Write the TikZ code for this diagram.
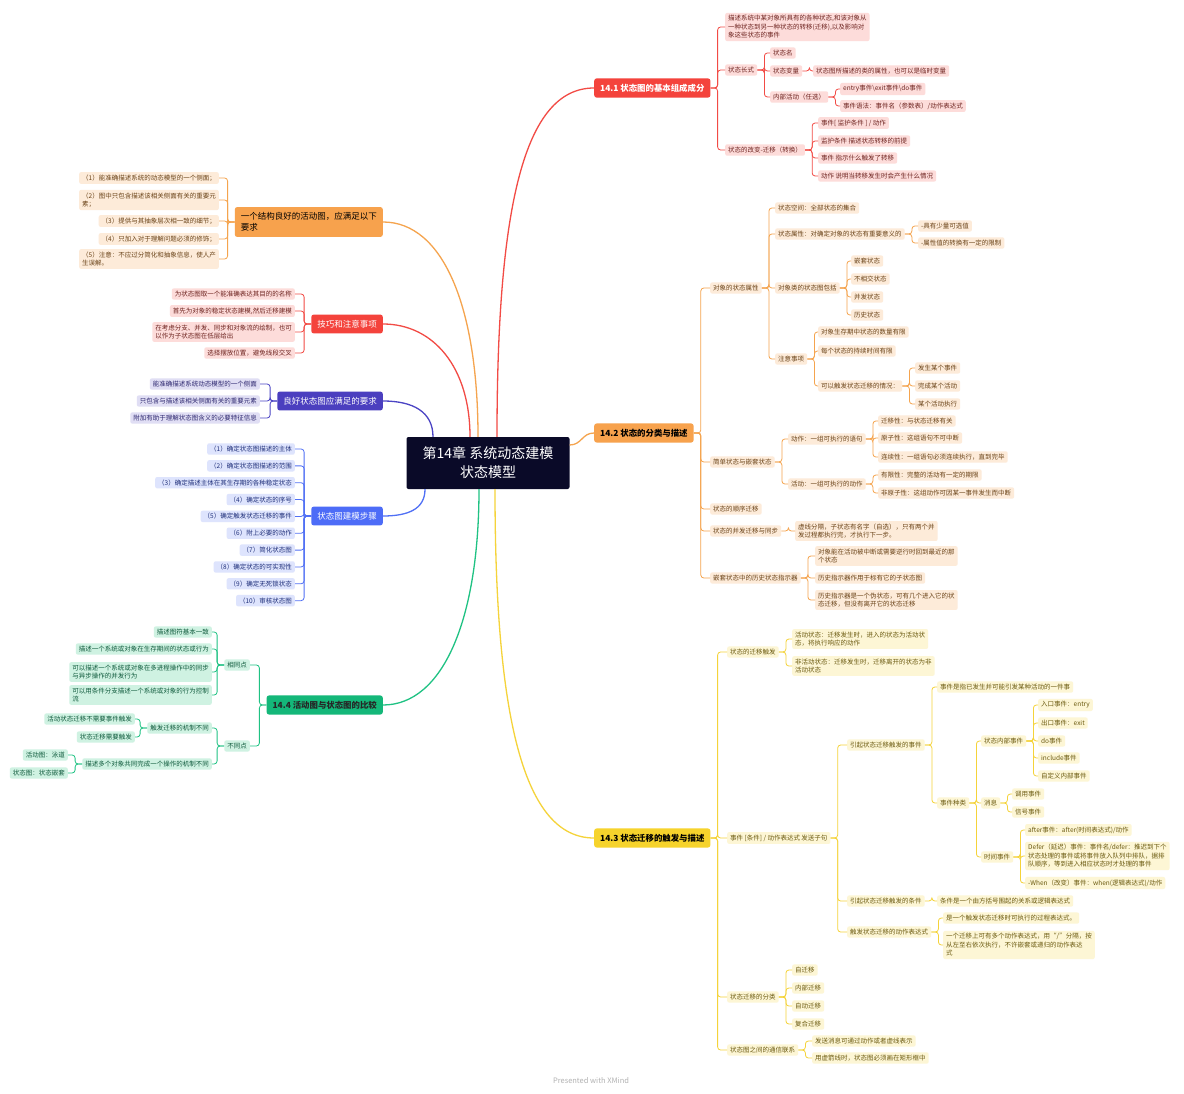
\documentclass[tikz,border=0pt]{standalone}
\usepackage{fontspec}
\setmainfont{Noto Sans CJK SC}
\definecolor{navy}{HTML}{0A0A28}
\definecolor{redM}{HTML}{F4433C}\definecolor{redL}{HTML}{F24B45}
\definecolor{pinkF}{HTML}{FDDCDA}\definecolor{pinkT}{HTML}{6E2420}
\definecolor{orM}{HTML}{F7A24D}\definecolor{orL}{HTML}{F5A44E}
\definecolor{peachF}{HTML}{FDEBD9}\definecolor{peachT}{HTML}{6A4318}
\definecolor{inM}{HTML}{4B3FBF}\definecolor{inL}{HTML}{4B44C4}
\definecolor{lilacF}{HTML}{E0DEF4}\definecolor{lilacT}{HTML}{2E2870}
\definecolor{blM}{HTML}{4D6CF7}\definecolor{blL}{HTML}{5070F5}
\definecolor{skyF}{HTML}{DEE4FD}\definecolor{skyT}{HTML}{1F2F7A}
\definecolor{grM}{HTML}{14B779}\definecolor{grL}{HTML}{1FC283}
\definecolor{mintF}{HTML}{CFF2E2}\definecolor{mintT}{HTML}{0F5A3C}
\definecolor{yeM}{HTML}{F6D32C}\definecolor{yeL}{HTML}{F5D33A}
\definecolor{creamF}{HTML}{FDF6D5}\definecolor{creamT}{HTML}{6B5A10}
% parent -> children, elbow links
\newcommand\branchR[3]{\foreach \c in {#3}{\draw[twig,draw=#1] (#2.east) -- ++(7,0) |- (\c.west);}}
\newcommand\branchL[3]{\foreach \c in {#3}{\draw[twig,draw=#1] (#2.west) -- ++(-7,0) |- (\c.east);}}
\begin{document}
\begin{tikzpicture}[x=1pt,y=-1pt,
	leaf/.style={rounded corners=2pt,inner xsep=3pt,inner ysep=2.6pt,align=left,font=\fontsize{6.5}{8.5}\selectfont},
	pinkleaf/.style={leaf,fill=pinkF,text=pinkT},
	peachleaf/.style={leaf,fill=peachF,text=peachT},
	lilacleaf/.style={leaf,fill=lilacF,text=lilacT},
	skyleaf/.style={leaf,fill=skyF,text=skyT},
	mintleaf/.style={leaf,fill=mintF,text=mintT},
	creamleaf/.style={leaf,fill=creamF,text=creamT},
	topic/.style={rounded corners=2.5pt,inner xsep=6pt,inner ysep=5.5pt,align=left,font=\fontsize{8.5}{11}\selectfont},
	sect/.style={topic,font=\bfseries\fontsize{8.4}{10}\selectfont},
	twig/.style={line width=0.8pt,rounded corners=3pt},
	limb/.style={line width=1.3pt},
	]
	\path[fill=white] (0,0) rectangle (1184,1094);
	\useasboundingbox (0,0) rectangle (1184,1094);
	
	\node[fill=navy,text=white,rounded corners=2pt,minimum width=163pt,minimum height=52pt,align=center,font=\fontsize{14}{19}\selectfont] (ctr) at (488,463) {第14章 系统动态建模\\状态模型};
	
	% right side
	\begin{scope}[every node/.append style={anchor=west}]
		% 14.1
		\node[sect,fill=redM,text=white] (s1) at (594,88) {14.1 状态图的基本组成成分};
		\node[pinkleaf] (s1a) at (725,27) {描述系统中某对象所具有的各种状态,和该对象从\\一种状态到另一种状态的转移(迁移),以及影响对\\象这些状态的事件};
		\node[pinkleaf] (s1b) at (725,70) {状态长式};
		\node[pinkleaf] (s1b1) at (770,53) {状态名};
		\node[pinkleaf] (s1b2) at (770,71) {状态变量};
		\node[pinkleaf] (s1b2a) at (813,71) {状态图所描述的类的属性，也可以是临时变量};
		\node[pinkleaf] (s1b3) at (770,97) {内部活动（任选）};
		\node[pinkleaf] (s1b3a) at (840,89) {entry事件\textbackslash exit事件\textbackslash do事件};
		\node[pinkleaf] (s1b3b) at (840,106) {事件语法：事件名（参数表）/动作表达式};
		\node[pinkleaf] (s1c) at (725,150) {状态的改变-迁移（转换）};
		\node[pinkleaf] (s1c1) at (818,123) {事件[ 监护条件 ] / 动作};
		\node[pinkleaf] (s1c2) at (818,141) {监护条件 描述状态转移的前提};
		\node[pinkleaf] (s1c3) at (818,158) {事件 指示什么触发了转移};
		\node[pinkleaf] (s1c4) at (818,176) {动作 说明当转移发生时会产生什么情况};
		% 14.2
		\node[sect,fill=orM] (s2) at (594,433) {14.2 状态的分类与描述};
		\node[peachleaf] (s2a) at (710,288) {对象的状态属性};
		\node[peachleaf] (s2a1) at (775,208) {状态空间：全部状态的集合};
		\node[peachleaf] (s2a2) at (775,234) {状态属性：对确定对象的状态有重要意义的};
		\node[peachleaf] (s2a2a) at (918,226) {-具有少量可选值};
		\node[peachleaf] (s2a2b) at (918,243) {-属性值的转换有一定的限制};
		\node[peachleaf] (s2a3) at (775,288) {对象类的状态图包括};
		\node[peachleaf] (s2a3a) at (851,261) {嵌套状态};
		\node[peachleaf] (s2a3b) at (851,279) {不相交状态};
		\node[peachleaf] (s2a3c) at (851,297) {并发状态};
		\node[peachleaf] (s2a3d) at (851,315) {历史状态};
		\node[peachleaf] (s2a4) at (775,359) {注意事项};
		\node[peachleaf] (s2a4a) at (818,332) {对象生存期中状态的数量有限};
		\node[peachleaf] (s2a4b) at (818,351) {每个状态的持续时间有限};
		\node[peachleaf] (s2a4c) at (818,386) {可以触发状态迁移的情况：};
		\node[peachleaf] (s2a4c1) at (915,368) {发生某个事件};
		\node[peachleaf] (s2a4c2) at (915,386) {完成某个活动};
		\node[peachleaf] (s2a4c3) at (915,404) {某个活动执行};
		\node[peachleaf] (s2b) at (710,462) {简单状态与嵌套状态};
		\node[peachleaf] (s2b1) at (788,439) {动作：一组可执行的语句};
		\node[peachleaf] (s2b1a) at (878,421) {迁移性：与状态迁移有关};
		\node[peachleaf] (s2b1b) at (878,438) {原子性：这组语句不可中断};
		\node[peachleaf] (s2b1c) at (878,457) {连续性：一组语句必须连续执行，直到完毕};
		\node[peachleaf] (s2b2) at (788,484) {活动：一组可执行的动作};
		\node[peachleaf] (s2b2a) at (878,475) {有限性：完整的活动有一定的期限};
		\node[peachleaf] (s2b2b) at (878,493) {非原子性：这组动作可因某一事件发生而中断};
		\node[peachleaf] (s2c) at (710,509) {状态的顺序迁移};
		\node[peachleaf] (s2d) at (710,531) {状态的并发迁移与同步};
		\node[peachleaf] (s2d1) at (795,531) {虚线分隔，子状态有名字（自选），只有两个并\\发过程都执行完，才执行下一步。};
		\node[peachleaf] (s2e) at (710,578) {嵌套状态中的历史状态指示器};
		\node[peachleaf] (s2e1) at (815,556) {对象能在活动被中断或需要逆行时回到最近的那\\个状态};
		\node[peachleaf] (s2e2) at (815,578) {历史指示器作用于标有它的子状态图};
		\node[peachleaf] (s2e3) at (815,600) {历史指示器是一个伪状态，可有几个进入它的状\\态迁移，但没有离开它的状态迁移};
		% 14.3
		\node[sect,fill=yeM] (s3) at (594,838) {14.3 状态迁移的触发与描述};
		\node[creamleaf] (s3a) at (727,652) {状态的迁移触发};
		\node[creamleaf] (s3a1) at (792,639) {活动状态：迁移发生时，进入的状态为活动状\\态，将执行响应的动作};
		\node[creamleaf] (s3a2) at (792,666) {非活动状态：迁移发生时，迁移离开的状态为非\\活动状态};
		\node[creamleaf] (s3b) at (727,838) {事件 [条件] / 动作表达式 发送子句};
		\node[creamleaf] (s3b1) at (847,745) {引起状态迁移触发的事件};
		\node[creamleaf] (s3b1a) at (937,687) {事件是指已发生并可能引发某种活动的一件事};
		\node[creamleaf] (s3b1b) at (937,803) {事件种类};
		\node[creamleaf] (s3k1) at (981,741) {状态内部事件};
		\node[creamleaf] (s3k1a) at (1038,705) {入口事件：entry};
		\node[creamleaf] (s3k1b) at (1038,723) {出口事件：exit};
		\node[creamleaf] (s3k1c) at (1038,741) {do事件};
		\node[creamleaf] (s3k1d) at (1038,758) {include事件};
		\node[creamleaf] (s3k1e) at (1038,776) {自定义内部事件};
		\node[creamleaf] (s3k2) at (981,803) {消息};
		\node[creamleaf] (s3k2a) at (1012,794) {调用事件};
		\node[creamleaf] (s3k2b) at (1012,812) {信号事件};
		\node[creamleaf] (s3k3) at (981,857) {时间事件};
		\node[creamleaf] (s3k3a) at (1025,830) {after事件：after(时间表达式)/动作};
		\node[creamleaf] (s3k3b) at (1025,856) {Defer（延迟）事件：事件名/defer：推迟到下个\\状态处理的事件或将事件放入队列中排队，据排\\队顺序，等到进入相应状态时才处理的事件};
		\node[creamleaf] (s3k3c) at (1025,883) {-When（改变）事件：when(逻辑表达式)/动作};
		\node[creamleaf] (s3b2) at (847,901) {引起状态迁移触发的条件};
		\node[creamleaf] (s3b2a) at (937,901) {条件是一个由方括号围起的关系或逻辑表达式};
		\node[creamleaf] (s3b3) at (847,932) {触发状态迁移的动作表达式};
		\node[creamleaf] (s3b3a) at (943,918) {是一个触发状态迁移时可执行的过程表达式。};
		\node[creamleaf] (s3b3b) at (943,945) {一个迁移上可有多个动作表达式，用“/”分隔，按\\从左至右依次执行，不许嵌套或递归的动作表达\\式};
		\node[creamleaf] (s3c) at (727,997) {状态迁移的分类};
		\node[creamleaf] (s3c1) at (792,970) {自迁移};
		\node[creamleaf] (s3c2) at (792,988) {内部迁移};
		\node[creamleaf] (s3c3) at (792,1006) {自动迁移};
		\node[creamleaf] (s3c4) at (792,1024) {复合迁移};
		\node[creamleaf] (s3d) at (727,1050) {状态图之间的通信联系};
		\node[creamleaf] (s3d1) at (812,1041) {发送消息可通过动作或者虚线表示};
		\node[creamleaf] (s3d2) at (812,1058) {用虚箭线时，状态图必须画在矩形框中};
	\end{scope}
	
	% left side
	\begin{scope}[every node/.append style={anchor=east}]
		\node[topic,fill=orM] (g1) at (383,222) {一个结构良好的活动图，应满足以下\\要求};
		\node[peachleaf] (g1a) at (219,178) {（1）能准确描述系统的动态模型的一个侧面；};
		\node[peachleaf] (g1b) at (219,200) {（2）图中只包含描述该相关侧面有关的重要元\\素；};
		\node[peachleaf] (g1c) at (219,221) {（3）提供与其抽象层次相一致的细节；};
		\node[peachleaf] (g1d) at (219,239) {（4）只加入对于理解问题必须的修饰；};
		\node[peachleaf] (g1e) at (219,259) {（5）注意：不应过分简化和抽象信息，使人产\\生误解。};
		
		\node[topic,fill=redM,text=white] (g2) at (383,324) {技巧和注意事项};
		\node[pinkleaf] (g2a) at (295,294) {为状态图取一个能准确表达其目的的名称};
		\node[pinkleaf] (g2b) at (295,311) {首先为对象的稳定状态建模,然后迁移建模};
		\node[pinkleaf] (g2c) at (295,332) {在考虑分支、并发、同步和对象流的绘制，也可\\以作为子状态图在低层给出};
		\node[pinkleaf] (g2d) at (295,353) {选择摆放位置，避免线段交叉};
		
		\node[topic,fill=inM,text=white] (g3) at (383,401) {良好状态图应满足的要求};
		\node[lilacleaf] (g3a) at (260,384) {能准确描述系统动态模型的一个侧面};
		\node[lilacleaf] (g3b) at (260,401) {只包含与描述该相关侧面有关的重要元素};
		\node[lilacleaf] (g3c) at (260,418) {附加有助于理解状态图含义的必要特征信息};
		
		\node[topic,fill=blM,text=white] (g4) at (383,516) {状态图建模步骤};
		\foreach \t [count=\i] in {（1）确定状态图描述的主体,（2）确定状态图描述的范围,（3）确定描述主体在其生存期的各种稳定状态,（4）确定状态的序号,（5）确定触发状态迁移的事件,（6）附上必要的动作,（7）简化状态图,（8）确定状态的可实现性,（9）确定无死锁状态,（10）审核状态图}
		\node[skyleaf] (g4\i) at (295,432.15+16.85*\i) {\t};
		
		\node[sect,fill=grM,text=black!85] (g5) at (383,705) {14.4 活动图与状态图的比较};
		\node[mintleaf] (g5a) at (250,665) {相同点};
		\node[mintleaf] (g5a1) at (212,632) {描述图符基本一致};
		\node[mintleaf] (g5a2) at (212,649) {描述一个系统或对象在生存期间的状态或行为};
		\node[mintleaf] (g5a3) at (212,672) {可以描述一个系统或对象在多进程操作中的同步\\与异步操作的并发行为};
		\node[mintleaf] (g5a4) at (212,695) {可以用条件分支描述一个系统或对象的行为控制\\流};
		\node[mintleaf] (g5b) at (250,746) {不同点};
		\node[mintleaf] (g5b1) at (212,728) {触发迁移的机制不同};
		\node[mintleaf] (g5b1a) at (135,719) {活动状态迁移不需要事件触发};
		\node[mintleaf] (g5b1b) at (135,737) {状态迁移需要触发};
		\node[mintleaf] (g5b2) at (212,764) {描述多个对象共同完成一个操作的机制不同};
		\node[mintleaf] (g5b2a) at (68,755) {活动图：泳道};
		\node[mintleaf] (g5b2b) at (68,773) {状态图：状态嵌套};
	\end{scope}
	
	% links
	\branchR{redL}{s1}{s1a,s1b,s1c}
	\branchR{redL}{s1b}{s1b1,s1b2,s1b3}
	\branchR{redL}{s1b2}{s1b2a}
	\branchR{redL}{s1b3}{s1b3a,s1b3b}
	\branchR{redL}{s1c}{s1c1,s1c2,s1c3,s1c4}
	\branchR{orL}{s2}{s2a,s2b,s2c,s2d,s2e}
	\branchR{orL}{s2a}{s2a1,s2a2,s2a3,s2a4}
	\branchR{orL}{s2a2}{s2a2a,s2a2b}
	\branchR{orL}{s2a3}{s2a3a,s2a3b,s2a3c,s2a3d}
	\branchR{orL}{s2a4}{s2a4a,s2a4b,s2a4c}
	\branchR{orL}{s2a4c}{s2a4c1,s2a4c2,s2a4c3}
	\branchR{orL}{s2b}{s2b1,s2b2}
	\branchR{orL}{s2b1}{s2b1a,s2b1b,s2b1c}
	\branchR{orL}{s2b2}{s2b2a,s2b2b}
	\branchR{orL}{s2d}{s2d1}
	\branchR{orL}{s2e}{s2e1,s2e2,s2e3}
	\branchR{yeL}{s3}{s3a,s3b,s3c,s3d}
	\branchR{yeL}{s3a}{s3a1,s3a2}
	\branchR{yeL}{s3b}{s3b1,s3b2,s3b3}
	\branchR{yeL}{s3b1}{s3b1a,s3b1b}
	\branchR{yeL}{s3b1b}{s3k1,s3k2,s3k3}
	\branchR{yeL}{s3k1}{s3k1a,s3k1b,s3k1c,s3k1d,s3k1e}
	\branchR{yeL}{s3k2}{s3k2a,s3k2b}
	\branchR{yeL}{s3k3}{s3k3a,s3k3b,s3k3c}
	\branchR{yeL}{s3b2}{s3b2a}
	\branchR{yeL}{s3b3}{s3b3a,s3b3b}
	\branchR{yeL}{s3c}{s3c1,s3c2,s3c3,s3c4}
	\branchR{yeL}{s3d}{s3d1,s3d2}
	\branchL{orL}{g1}{g1a,g1b,g1c,g1d,g1e}
	\branchL{redL}{g2}{g2a,g2b,g2c,g2d}
	\branchL{inL}{g3}{g3a,g3b,g3c}
	\branchL{blL}{g4}{g41,g42,g43,g44,g45,g46,g47,g48,g49,g410}
	\branchL{grL}{g5}{g5a,g5b}
	\branchL{grL}{g5a}{g5a1,g5a2,g5a3,g5a4}
	\branchL{grL}{g5b}{g5b1,g5b2}
	\branchL{grL}{g5b1}{g5b1a,g5b1b}
	\branchL{grL}{g5b2}{g5b2a,g5b2b}
	
	% main limbs from the centre
	\draw[limb,redL] ([xshift=9pt]ctr.north) .. controls +(0,-230) and +(-70,0) .. (s1.west);
	\draw[limb,orL] ([xshift=-10pt]ctr.north) .. controls +(0,-130) and +(60,0) .. (g1.east);
	\draw[limb,redL] ([xshift=-18pt]ctr.north) .. controls +(0,-70) and +(50,0) .. (g2.east);
	\draw[limb,inL] ([xshift=-55pt]ctr.north) .. controls +(0,-25) and +(30,0) .. (g3.east);
	\draw[limb,blL] ([xshift=-63pt]ctr.south) .. controls +(0,20) and +(25,0) .. (g4.east);
	\draw[limb,grL] ([xshift=-9pt]ctr.south) .. controls +(0,130) and +(60,0) .. (g5.east);
	\draw[limb,yeL] ([xshift=7pt]ctr.south) .. controls +(0,230) and +(-70,0) .. (s3.west);
	\draw[limb,orL] ([yshift=18pt]ctr.east) .. controls +(12,0) and +(-12,0) .. (s2.west);
	
	\node[text=black!30,font=\fontsize{7.5}{9}\selectfont] (wm) at (591,1081) {Presented with XMind};
\end{tikzpicture}
\end{document}
